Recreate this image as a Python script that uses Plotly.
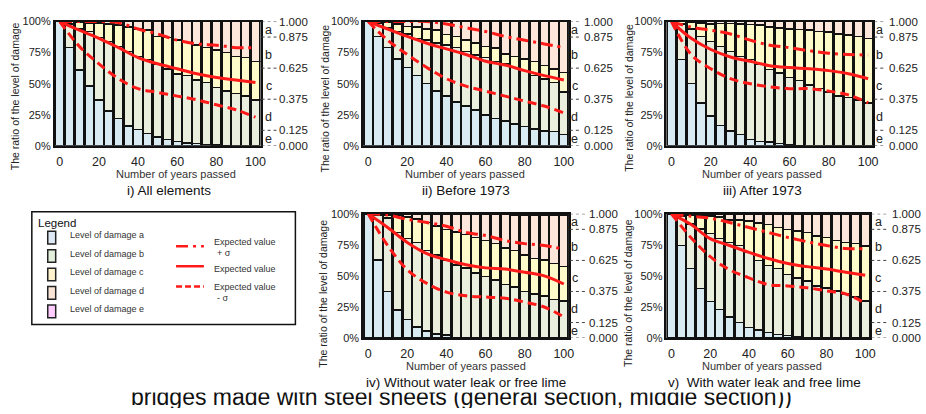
import plotly.graph_objects as go

W, H = 926, 414
FONT = "Liberation Sans, Arial, sans-serif"

# ---------------- data ----------------
years = list(range(0, 101, 5))
line_years = list(range(0, 101, 10))

# cumulative tops of each damage level (a, a+b, a+b+c, a+b+c+d)
a_top_i = [1.00, 0.79, 0.61, 0.48, 0.37, 0.28, 0.22, 0.16, 0.13, 0.10, 0.07, 0.05, 0.035, 0.025, 0.018, 0.01, 0.005, 0.003, 0.002, 0.001, 0.0]
b_top_i = [1.00, 0.98, 0.94, 0.92, 0.87, 0.84, 0.80, 0.76, 0.72, 0.695, 0.66, 0.62, 0.58, 0.565, 0.53, 0.51, 0.47, 0.44, 0.42, 0.40, 0.37]
c_top_i = [1.00, 1.00, 0.995, 0.99, 0.99, 0.98, 0.97, 0.955, 0.94, 0.93, 0.88, 0.87, 0.85, 0.83, 0.81, 0.79, 0.77, 0.75, 0.72, 0.71, 0.68]
d_top_i = [1.0] * 21
exp_i = [1.0, 0.93, 0.865, 0.79, 0.71, 0.66, 0.62, 0.58, 0.55, 0.53, 0.51]
lo_i = [1.0, 0.80, 0.66, 0.54, 0.46, 0.43, 0.40, 0.37, 0.33, 0.29, 0.23]
hi_i = [1.0, 1.0, 1.0, 0.99, 0.94, 0.90, 0.85, 0.82, 0.81, 0.79, 0.79]

a_top_ii = [1.0, 0.88, 0.79, 0.70, 0.63, 0.565, 0.50, 0.44, 0.40, 0.355, 0.32, 0.29, 0.25, 0.22, 0.20, 0.175, 0.155, 0.135, 0.12, 0.115, 0.09]
b_top_ii = [1.0, 0.99, 0.95, 0.92, 0.90, 0.865, 0.85, 0.825, 0.81, 0.79, 0.76, 0.73, 0.71, 0.68, 0.66, 0.63, 0.605, 0.565, 0.54, 0.51, 0.435]
c_top_ii = [1.0, 1.0, 0.995, 0.98, 0.96, 0.955, 0.94, 0.93, 0.895, 0.88, 0.85, 0.825, 0.80, 0.785, 0.74, 0.72, 0.70, 0.68, 0.645, 0.62, 0.59]
d_top_ii = [1.0] * 21
exp_ii = [1.0, 0.94, 0.88, 0.825, 0.78, 0.735, 0.68, 0.65, 0.605, 0.565, 0.53]
lo_ii = [1.0, 0.85, 0.735, 0.63, 0.54, 0.48, 0.44, 0.40, 0.36, 0.32, 0.265]
hi_ii = [1.0, 1.0, 1.0, 1.0, 0.98, 0.95, 0.92, 0.88, 0.85, 0.82, 0.79]

a_top_iii = [1.0, 0.695, 0.50, 0.345, 0.24, 0.165, 0.12, 0.09, 0.05, 0.035, 0.03, 0.02, 0.005, 0.003, 0.002, 0, 0, 0, 0, 0, 0]
b_top_iii = [1.0, 0.98, 0.94, 0.88, 0.84, 0.80, 0.76, 0.72, 0.695, 0.655, 0.615, 0.585, 0.55, 0.525, 0.49, 0.46, 0.435, 0.40, 0.39, 0.37, 0.345]
c_top_iii = [1.0, 1.0, 0.995, 0.99, 0.98, 0.985, 0.985, 0.98, 0.975, 0.97, 0.955, 0.95, 0.94, 0.935, 0.93, 0.92, 0.915, 0.90, 0.89, 0.88, 0.865]
d_top_iii = [1.0] * 21
exp_iii = [1.0, 0.865, 0.775, 0.715, 0.68, 0.645, 0.63, 0.62, 0.605, 0.58, 0.54]
lo_iii = [1.0, 0.735, 0.62, 0.54, 0.50, 0.475, 0.46, 0.46, 0.44, 0.41, 0.345]
hi_iii = [1.0, 0.955, 0.93, 0.90, 0.85, 0.81, 0.79, 0.765, 0.745, 0.735, 0.73]

a_top_iv = [1.0, 0.63, 0.375, 0.225, 0.15, 0.09, 0.055, 0.035, 0.025, 0.005, 0.003, 0, 0, 0, 0, 0, 0, 0, 0, 0, 0]
b_top_iv = [1.0, 0.985, 0.965, 0.85, 0.80, 0.77, 0.705, 0.67, 0.63, 0.59, 0.565, 0.525, 0.495, 0.465, 0.43, 0.41, 0.375, 0.355, 0.34, 0.31, 0.30]
c_top_iv = [1.0, 1.0, 0.99, 0.985, 0.975, 0.96, 0.93, 0.90, 0.875, 0.855, 0.835, 0.81, 0.785, 0.76, 0.725, 0.705, 0.67, 0.64, 0.63, 0.60, 0.575]
d_top_iv = [1.0] * 15 + [0.985, 0.985, 0.99, 0.985, 0.985, 0.985]
exp_iv = [1.0, 0.89, 0.77, 0.68, 0.63, 0.59, 0.565, 0.555, 0.53, 0.50, 0.435]
lo_iv = [1.0, 0.745, 0.55, 0.44, 0.37, 0.34, 0.33, 0.32, 0.29, 0.25, 0.17]
hi_iv = [1.0, 0.99, 0.955, 0.93, 0.90, 0.85, 0.825, 0.785, 0.76, 0.745, 0.715]

a_top_v = [1.0, 0.745, 0.56, 0.40, 0.295, 0.23, 0.17, 0.125, 0.085, 0.065, 0.045, 0.03, 0.02, 0.013, 0.005, 0, 0, 0, 0, 0, 0]
b_top_v = [1.0, 0.98, 0.92, 0.88, 0.84, 0.80, 0.77, 0.745, 0.69, 0.625, 0.585, 0.56, 0.51, 0.485, 0.46, 0.42, 0.405, 0.38, 0.355, 0.33, 0.30]
c_top_v = [1.0, 1.0, 0.985, 0.985, 0.98, 0.975, 0.95, 0.95, 0.94, 0.925, 0.915, 0.89, 0.875, 0.86, 0.85, 0.82, 0.81, 0.785, 0.77, 0.76, 0.74]
d_top_v = [1.0] * 21
exp_v = [1.0, 0.915, 0.80, 0.745, 0.69, 0.64, 0.60, 0.575, 0.555, 0.53, 0.505]
lo_v = [1.0, 0.81, 0.655, 0.55, 0.485, 0.43, 0.42, 0.405, 0.38, 0.355, 0.28]
hi_v = [1.0, 0.98, 0.965, 0.93, 0.89, 0.85, 0.81, 0.775, 0.745, 0.72, 0.72]

titles = ["i) All elements", "ii) Before 1973", "iii) After 1973",
          "iv) Without water leak or free lime", "v)  With water leak and free lime"]
levels = ["a", "b", "c", "d", "e"]
level_colors = ["#d8eaf2", "#e9eedd", "#fdfbc9", "#fde6da", "#f3c4f3"]
legend_colors = ["#dee9f5", "#e2efda", "#fff2cc", "#fbe5d6", "#ffccff"]
yticks = [0, 0.25, 0.5, 0.75, 1.0]
yticktext = ["0%", "25%", "50%", "75%", "100%"]
xticks = [0, 20, 40, 60, 80, 100]
right_ticks = [1.0, 0.875, 0.625, 0.375, 0.125, 0.0]
right_ticktext = ["1.000", "0.875", "0.625", "0.375", "0.125", "0.000"]
letter_pos = [0.93, 0.73, 0.48, 0.23, 0.055]
bottom_text = "bridges made with steel sheets (general section, middle section))"

panels = [
    dict(a=a_top_i, b=b_top_i, c=c_top_i, d=d_top_i, exp=exp_i, lo=lo_i, hi=hi_i),
    dict(a=a_top_ii, b=b_top_ii, c=c_top_ii, d=d_top_ii, exp=exp_ii, lo=lo_ii, hi=hi_ii),
    dict(a=a_top_iii, b=b_top_iii, c=c_top_iii, d=d_top_iii, exp=exp_iii, lo=lo_iii, hi=hi_iii),
    dict(a=a_top_iv, b=b_top_iv, c=c_top_iv, d=d_top_iv, exp=exp_iv, lo=lo_iv, hi=hi_iv),
    dict(a=a_top_v, b=b_top_v, c=c_top_v, d=d_top_v, exp=exp_v, lo=lo_v, hi=hi_v),
]

# ---------------- layout geometry (pixels) ----------------
# (left, right, top, bottom) of each plot area
boxes = [(55, 262, 16, 144), (365, 572, 16, 144), (670, 878, 16, 144),
         (365, 572, 214, 342), (670, 875, 214, 342)]
label_off = [17, 13, 14, 18, 20]
letter_off = [8, 6, 6, 6, 8]
xtitle_pos = [(177, 173), (468, 173), (766, 173), (469, 371), (766, 371)]
title_pos = [(170, 190), (469, 190), (767, 190), (469, 388), (769, 388)]
ytitle_pos = [(15, 93), (327, 95), (633, 95), (325, 296), (632, 296)]


def PX(x):
    return x / W


def PY(y):
    return 1 - y / H


fig = go.Figure()
layout = dict(
    width=W, height=H, margin=dict(l=0, r=0, t=0, b=0),
    paper_bgcolor="white", plot_bgcolor="white",
    barmode="stack", bargap=0.1, showlegend=False,
    font=dict(family=FONT, color="#222"),
)
shapes = []
annotations = []

for k, p in enumerate(panels):
    n = "" if k == 0 else str(k + 1)
    xa, ya = "x" + n, "y" + n
    tops = [p["a"], p["b"], p["c"], p["d"], [1.0] * len(years)]
    prev = [0.0] * len(years)
    for li, top in enumerate(tops):
        seg = [max(t - q, 0.0) for t, q in zip(top, prev)]
        fig.add_trace(go.Bar(
            x=years, y=seg, xaxis=xa, yaxis=ya, name="Level of damage " + levels[li],
            marker=dict(color=level_colors[li], line=dict(color="#111", width=1.6)),
        ))
        prev = top
    fig.add_trace(go.Scatter(x=line_years, y=p["hi"], xaxis=xa, yaxis=ya, mode="lines",
                             line=dict(color="#ff1a1a", width=3, dash="12px,5px,3px,5px", shape="spline")))
    fig.add_trace(go.Scatter(x=line_years, y=p["exp"], xaxis=xa, yaxis=ya, mode="lines",
                             line=dict(color="#ff1a1a", width=3, shape="spline")))
    fig.add_trace(go.Scatter(x=line_years, y=p["lo"], xaxis=xa, yaxis=ya, mode="lines",
                             line=dict(color="#ff1a1a", width=3, dash="9px,5px", shape="spline")))

    l, r, t, b = boxes[k]
    layout["xaxis" + n] = dict(
        domain=[PX(l), PX(r)], anchor=ya, range=[-2.6, 102.6],
        tickvals=xticks, ticks="outside", ticklen=3, tickcolor="rgba(0,0,0,0)",
        tickfont=dict(size=12.5, color="#222"),
        showline=True, linecolor="#111", linewidth=1.5, mirror=True, showgrid=False, zeroline=False,
    )
    layout["yaxis" + n] = dict(
        domain=[PY(b), PY(t)], anchor=xa, range=[0, 1],
        tickvals=yticks, ticktext=yticktext, tickfont=dict(size=11, color="#222"),
        showline=True, linecolor="#111", linewidth=1.5, mirror=True, showgrid=False, zeroline=False,
    )
    # right-side scale with dotted leaders
    for v, txt in zip(right_ticks, right_ticktext):
        shapes.append(dict(type="line", xref="paper", yref=ya, x0=PX(r + 1), x1=PX(r + label_off[k] - 1),
                           y0=v, y1=v, line=dict(color="#444", width=1, dash="dot")))
        annotations.append(dict(xref="paper", yref=ya, x=PX(r + label_off[k]), y=v, text=txt,
                                showarrow=False, xanchor="left", yanchor="middle",
                                font=dict(size=11.5, color="#222")))
    for v, txt in zip(letter_pos, levels):
        annotations.append(dict(xref="paper", yref=ya, x=PX(r + letter_off[k]), y=v, text=txt,
                                showarrow=False, xanchor="center", yanchor="middle",
                                font=dict(size=12.5, color="#222")))
    xtx, xty = xtitle_pos[k]
    annotations.append(dict(xref="paper", yref="paper", x=PX(xtx), y=PY(xty), text="Number of years passed",
                            showarrow=False, xanchor="center", yanchor="middle",
                            font=dict(size=11, color="#333")))
    ttx, tty = title_pos[k]
    annotations.append(dict(xref="paper", yref="paper", x=PX(ttx), y=PY(tty), text=titles[k],
                            showarrow=False, xanchor="center", yanchor="middle",
                            font=dict(size=13.5, color="#111")))
    ytx, yty = ytitle_pos[k]
    annotations.append(dict(xref="paper", yref="paper", x=PX(ytx), y=PY(yty),
                            text="The ratio of the level of damage", textangle=-90,
                            showarrow=False, xanchor="center", yanchor="middle",
                            font=dict(size=10.5, color="#222")))

# ---------------- legend box ----------------
shapes.append(dict(type="rect", xref="paper", yref="paper", x0=PX(32), x1=PX(297), y0=PY(328), y1=PY(212),
                   line=dict(color="#111", width=1.5), fillcolor="white"))
annotations.append(dict(xref="paper", yref="paper", x=PX(36), y=PY(223), text="Legend", showarrow=False,
                        xanchor="left", yanchor="middle", font=dict(size=11.5, color="#111")))
row_y = [238.5, 257.5, 276.5, 295.5, 314.5]
for i, ry in enumerate(row_y):
    shapes.append(dict(type="rect", xref="paper", yref="paper", x0=PX(48), x1=PX(56),
                       y0=PY(ry + 6.5), y1=PY(ry - 6.5),
                       line=dict(color="#222", width=1.5), fillcolor=legend_colors[i]))
    annotations.append(dict(xref="paper", yref="paper", x=PX(68), y=PY(ry - 2.5),
                            text="Level of damage " + levels[i], showarrow=False,
                            xanchor="left", yanchor="middle", font=dict(size=9, color="#333")))
leg_lines = [(247.5, "12px,5px,3px,5px"), (268, "solid"), (289, "6px,3px")]
for ly, dash in leg_lines:
    shapes.append(dict(type="line", xref="paper", yref="paper", x0=PX(177), x1=PX(205), y0=PY(ly), y1=PY(ly),
                       line=dict(color="#ff1a1a", width=2.5, dash=dash)))
for tx, ty, txt in [(213, 243, "Expected value"), (216, 254, "+ σ"), (213, 271, "Expected value"),
                    (213, 289, "Expected value"), (216, 301, "- σ")]:
    annotations.append(dict(xref="paper", yref="paper", x=PX(tx), y=PY(ty), text=txt, showarrow=False,
                            xanchor="left", yanchor="middle", font=dict(size=9, color="#333")))

# ---------------- clipped bottom caption ----------------
fig.add_trace(go.Scatter(x=[464], y=[9.5], xaxis="x6", yaxis="y6", mode="text", text=[bottom_text],
                         textposition="middle center", textfont=dict(size=23, color="#111", family=FONT),
                         cliponaxis=True, hoverinfo="skip"))
layout["xaxis6"] = dict(domain=[0, 1], anchor="y6", range=[0, W], visible=False)
layout["yaxis6"] = dict(domain=[0, 16 / H], anchor="x6", range=[0, 16], visible=False)

layout["shapes"] = shapes
layout["annotations"] = annotations
fig.update_layout(**layout)
fig.write_html("out.html", config={"displayModeBar": False},
               post_script="document.body.style.margin='0px';document.body.style.overflow='hidden';")
